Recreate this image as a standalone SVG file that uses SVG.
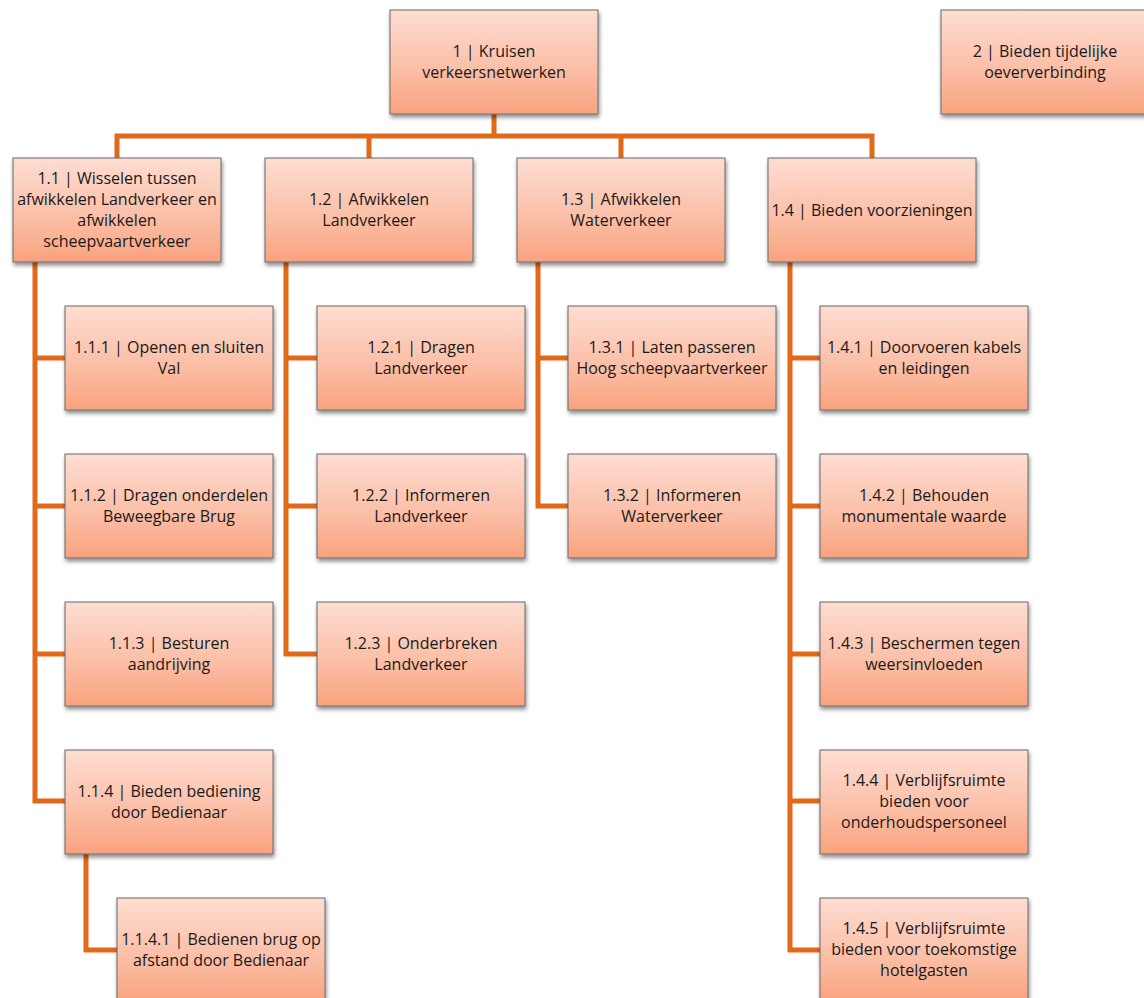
<svg xmlns="http://www.w3.org/2000/svg" width="1144" height="998" viewBox="0 0 1144 998">
<defs>
<linearGradient id="g" x1="0" y1="0" x2="0" y2="1">
<stop offset="0" stop-color="#FDDDD2"/>
<stop offset="0.6" stop-color="#FBBDA4"/>
<stop offset="1" stop-color="#F9A27E"/>
</linearGradient>
<filter id="sh" x="-10%" y="-10%" width="125%" height="130%">
<feGaussianBlur in="SourceAlpha" stdDeviation="2"/>
<feOffset dx="1" dy="3"/>
<feComponentTransfer><feFuncA type="linear" slope="0.45"/></feComponentTransfer>
<feMerge><feMergeNode/><feMergeNode in="SourceGraphic"/></feMerge>
</filter>
</defs>
<style>
.b{fill:url(#g);stroke:#6b6b6b;stroke-width:1;filter:url(#sh)}
.t{font-family:"Open Sans","Noto Sans",sans-serif;font-size:16px;fill:#1a1a1a;text-anchor:middle}
.c{fill:none;stroke:#E2691A;stroke-width:5;stroke-linejoin:miter}
</style>
<rect width="1144" height="998" fill="#fff"/>
<g id="connectors">
<path class="c" d="M494 114V136M117 158V136H872V158M369 136V158M621 136V158"/>
<path class="c" d="M35 262V801H65M35 358H65M35 506H65M35 654H65"/>
<path class="c" d="M86 854V950H117"/>
<path class="c" d="M286 262V654H317M286 358H317M286 506H317"/>
<path class="c" d="M538 262V506H568M538 358H568"/>
<path class="c" d="M790 262V950H820M790 358H820M790 506H820M790 654H820M790 801H820"/>
</g>
<g id="n1"><rect class="b" x="390" y="10" width="208" height="104"/><text class="t" x="494" y="57">1 | Kruisen</text><text class="t" x="494" y="78">verkeersnetwerken</text></g>
<g id="n2"><rect class="b" x="941" y="10" width="208" height="104"/><text class="t" x="1045" y="57">2 | Bieden tijdelijke</text><text class="t" x="1045" y="78">oeververbinding</text></g>
<g id="n1_1"><rect class="b" x="13" y="158" width="208" height="104"/><text class="t" x="117" y="184">1.1 | Wisselen tussen</text><text class="t" x="117" y="205">afwikkelen Landverkeer en</text><text class="t" x="117" y="226">afwikkelen</text><text class="t" x="117" y="247">scheepvaartverkeer</text></g>
<g id="n1_2"><rect class="b" x="265" y="158" width="208" height="104"/><text class="t" x="369" y="205">1.2 | Afwikkelen</text><text class="t" x="369" y="226">Landverkeer</text></g>
<g id="n1_3"><rect class="b" x="517" y="158" width="208" height="104"/><text class="t" x="621" y="205">1.3 | Afwikkelen</text><text class="t" x="621" y="226">Waterverkeer</text></g>
<g id="n1_4"><rect class="b" x="768" y="158" width="208" height="104"/><text class="t" x="872" y="216">1.4 | Bieden voorzieningen</text></g>
<g id="n1_1_1"><rect class="b" x="65" y="306" width="208" height="104"/><text class="t" x="169" y="353">1.1.1 | Openen en sluiten</text><text class="t" x="169" y="374">Val</text></g>
<g id="n1_1_2"><rect class="b" x="65" y="454" width="208" height="104"/><text class="t" x="169" y="501">1.1.2 | Dragen onderdelen</text><text class="t" x="169" y="522">Beweegbare Brug</text></g>
<g id="n1_1_3"><rect class="b" x="65" y="602" width="208" height="104"/><text class="t" x="169" y="649">1.1.3 | Besturen</text><text class="t" x="169" y="670">aandrijving</text></g>
<g id="n1_1_4"><rect class="b" x="65" y="750" width="208" height="104"/><text class="t" x="169" y="797">1.1.4 | Bieden bediening</text><text class="t" x="169" y="818">door Bedienaar</text></g>
<g id="n1_1_4_1"><rect class="b" x="117" y="898" width="208" height="104"/><text class="t" x="221" y="945">1.1.4.1 | Bedienen brug op</text><text class="t" x="221" y="966">afstand door Bedienaar</text></g>
<g id="n1_2_1"><rect class="b" x="317" y="306" width="208" height="104"/><text class="t" x="421" y="353">1.2.1 | Dragen</text><text class="t" x="421" y="374">Landverkeer</text></g>
<g id="n1_2_2"><rect class="b" x="317" y="454" width="208" height="104"/><text class="t" x="421" y="501">1.2.2 | Informeren</text><text class="t" x="421" y="522">Landverkeer</text></g>
<g id="n1_2_3"><rect class="b" x="317" y="602" width="208" height="104"/><text class="t" x="421" y="649">1.2.3 | Onderbreken</text><text class="t" x="421" y="670">Landverkeer</text></g>
<g id="n1_3_1"><rect class="b" x="568" y="306" width="208" height="104"/><text class="t" x="672" y="353">1.3.1 | Laten passeren</text><text class="t" x="672" y="374">Hoog scheepvaartverkeer</text></g>
<g id="n1_3_2"><rect class="b" x="568" y="454" width="208" height="104"/><text class="t" x="672" y="501">1.3.2 | Informeren</text><text class="t" x="672" y="522">Waterverkeer</text></g>
<g id="n1_4_1"><rect class="b" x="820" y="306" width="208" height="104"/><text class="t" x="924" y="353">1.4.1 | Doorvoeren kabels</text><text class="t" x="924" y="374">en leidingen</text></g>
<g id="n1_4_2"><rect class="b" x="820" y="454" width="208" height="104"/><text class="t" x="924" y="501">1.4.2 | Behouden</text><text class="t" x="924" y="522">monumentale waarde</text></g>
<g id="n1_4_3"><rect class="b" x="820" y="602" width="208" height="104"/><text class="t" x="924" y="649">1.4.3 | Beschermen tegen</text><text class="t" x="924" y="670">weersinvloeden</text></g>
<g id="n1_4_4"><rect class="b" x="820" y="750" width="208" height="104"/><text class="t" x="924" y="786">1.4.4 | Verblijfsruimte</text><text class="t" x="924" y="807">bieden voor</text><text class="t" x="924" y="828">onderhoudspersoneel</text></g>
<g id="n1_4_5"><rect class="b" x="820" y="898" width="208" height="104"/><text class="t" x="924" y="934">1.4.5 | Verblijfsruimte</text><text class="t" x="924" y="955">bieden voor toekomstige</text><text class="t" x="924" y="976">hotelgasten</text></g>
</svg>
